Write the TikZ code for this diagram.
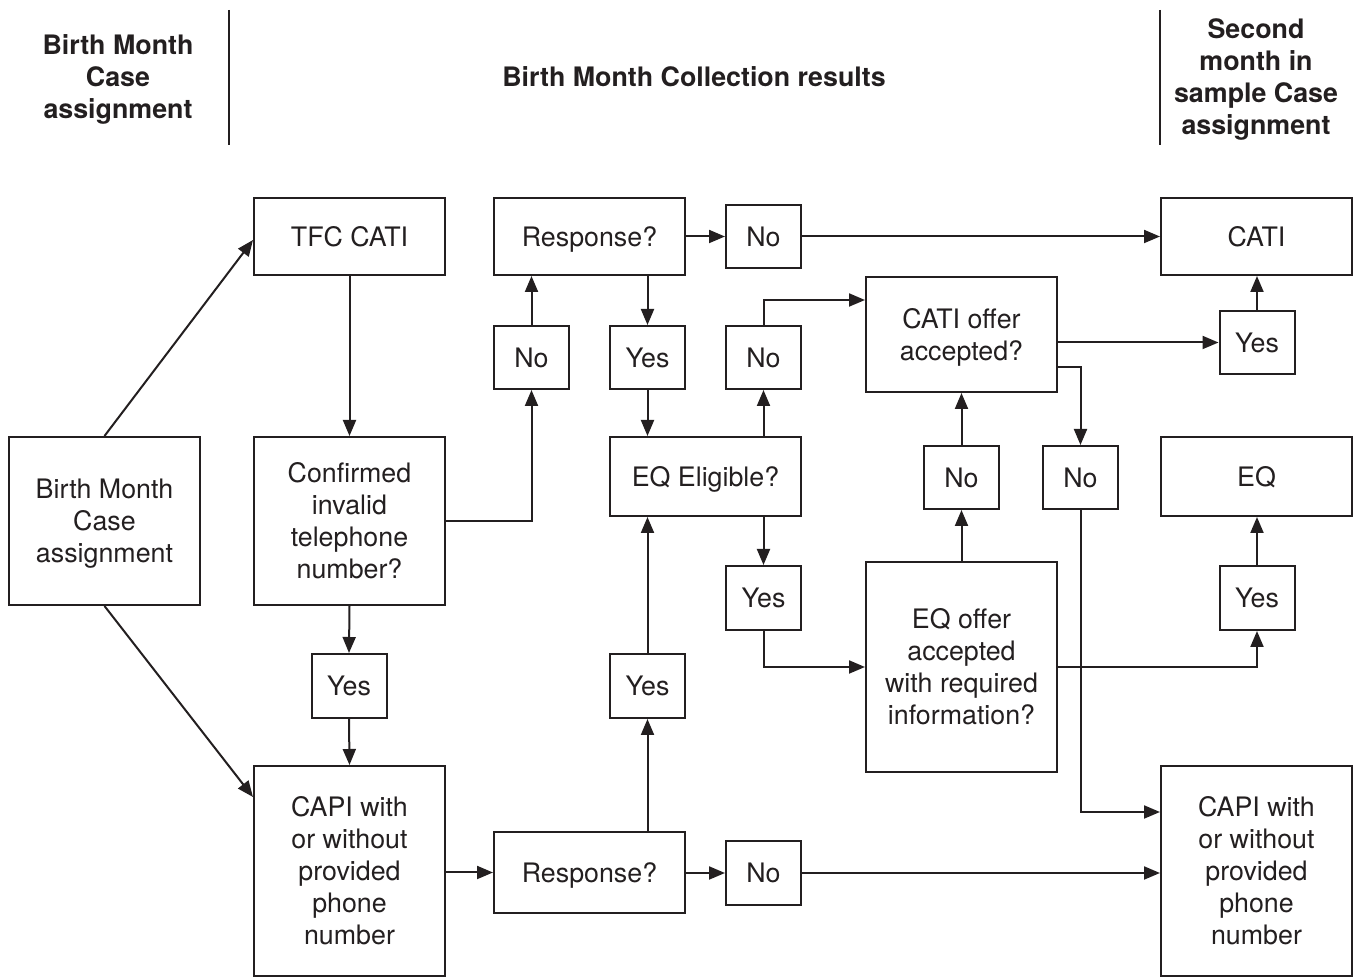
\documentclass[tikz,border=0pt]{standalone}
\usepackage{amsmath}
\usepackage{fontspec}
\setmainfont{TeX Gyre Heros}
\usetikzlibrary{arrows.meta}
\definecolor{ink}{HTML}{231F20}
\newcommand{\nd}[1]{\smash[b]{#1}}
\begin{document}
\begin{tikzpicture}[x=0.5pt,y=-0.5pt,
  every node/.style={font=\fontsize{13.4}{16}\selectfont, text=ink, align=center, inner sep=0pt},
  box/.style={draw=ink, line width=1pt, minimum width=95.5pt},
  small/.style={draw=ink, line width=1pt, minimum width=37.5pt, minimum height=31.5pt},
  head/.style={font=\fontsize{13.4}{16}\selectfont\bfseries},
  arr/.style={draw=ink, line width=1pt, -{Triangle[length=8pt,width=6.5pt]}},
  rule/.style={draw=ink, line width=1pt}]
\useasboundingbox (0,0) rectangle (1357,977);
% headers
\node[head] (h1) at (118,77) {Birth Month\\Case\\\nd{assignment}};
\node[head] (h2) at (694,77) {Birth Month Collection results};
\node[head] (h3) at (1256,77) {Second\\month in\\sample Case\\\nd{assignment}};
\draw[rule] (229,10) -- (229,145);
\draw[rule] (1160,10) -- (1160,145);
% boxes
\node[box, minimum height=84pt] (bm) at (104.5,521) {Birth Month\\Case\\\nd{assignment}};
\node[box, minimum height=38.5pt] (tfc) at (349.5,236.5) {TFC CATI};
\node[box, minimum height=84pt] (conf) at (349.5,521) {Confirmed\\invalid\\telephone\\number?};
\node[small, minimum height=32pt] (yes1) at (349,686) {Yes};
\node[box, minimum height=105pt] (capiL) at (349.5,871) {CAPI with\\or without\\provided\\phone\\number};
\node[box, minimum height=38.5pt] (resp1) at (589.5,236.5) {\nd{Response?}};
\node[small] (no1) at (763.5,236.5) {No};
\node[small] (no2) at (531.5,357.5) {No};
\node[small] (yes2) at (647.5,357.5) {Yes};
\node[small] (no3) at (763.5,357.5) {No};
\node[box, minimum height=39.5pt] (eqe) at (705.5,476.5) {\nd{EQ Eligible?}};
\node[small, minimum height=32pt] (yes3) at (763.5,598) {Yes};
\node[small, minimum height=32pt] (yes4) at (647.5,686) {Yes};
\node[box, minimum height=40.5pt] (resp2) at (589.5,872.5) {\nd{Response?}};
\node[small, minimum height=32pt] (no4) at (763.5,873) {No};
\node[box, minimum height=57.5pt] (coff) at (961.5,334.5) {CATI offer\\\nd{accepted?}};
\node[small] (no5) at (961.5,477.5) {No};
\node[small] (no6) at (1080.5,477.5) {No};
\node[box, minimum height=105pt] (eqo) at (961.5,667) {EQ offer\\accepted\\with required\\information?};
\node[box, minimum height=38.5pt] (cati) at (1256.5,236.5) {CATI};
\node[small] (yes5) at (1257,342.5) {Yes};
\node[box, minimum height=39.5pt] (eq) at (1256.5,476.5) {\nd{EQ}};
\node[small, minimum height=32pt] (yes6) at (1257,598) {Yes};
\node[box, minimum height=105pt] (capiR) at (1256.5,871) {CAPI with\\or without\\provided\\phone\\number};
% helper coordinates
\coordinate (y240) at (0,240);
\coordinate (y797) at (0,797);
\coordinate (y300) at (0,300);
\coordinate (y367) at (0,367);
\coordinate (y812) at (0,812);
% connectors
\draw[arr] (bm.north) -- (tfc.west |- y240);
\draw[arr] (bm.south) -- (capiL.west |- y797);
\draw[arr] (tfc.south) -- (conf.north);
\draw[arr] (conf.south) -- (yes1.north);
\draw[arr] (yes1.south) -- (capiL.north);
\draw[arr] (conf.east) -| (no2.south);
\draw[arr] (no2.north) -- (no2.north |- resp1.south);
\draw[arr] (resp1.east) -- (no1.west);
\draw[arr] (no1.east) -- (cati.west);
\draw[arr] (yes2.north |- resp1.south) -- (yes2.north);
\draw[arr] (yes2.south) -- (yes2.south |- eqe.north);
\draw[arr] (no3.south |- eqe.north) -- (no3.south);
\draw[arr] (no3.north) |- (coff.west |- y300);
\draw[arr] (yes3.north |- eqe.south) -- (yes3.north);
\draw[arr] (yes3.south) |- (eqo.west);
\draw[arr] (capiL.east |- resp2.west) -- (resp2.west);
\draw[arr] (resp2.east |- no4.west) -- (no4.west);
\draw[arr] (no4.east) -- (capiR.west |- no4.east);
\draw[arr] (yes4.south |- resp2.north) -- (yes4.south);
\draw[arr] (yes4.north) -- (yes4.north |- eqe.south);
\draw[arr] (eqo.north) -- (no5.south);
\draw[arr] (no5.north) -- (coff.south);
\draw[arr] (coff.east |- yes5.west) -- (yes5.west);
\draw[arr] (yes5.north) -- (yes5.north |- cati.south);
\draw[arr] (coff.east |- y367) -| (no6.north);
\draw[arr] (no6.south) |- (capiR.west |- y812);
\draw[arr] (eqo.east) -| (yes6.south);
\draw[arr] (yes6.north) -- (yes6.north |- eq.south);
\end{tikzpicture}
\end{document}
